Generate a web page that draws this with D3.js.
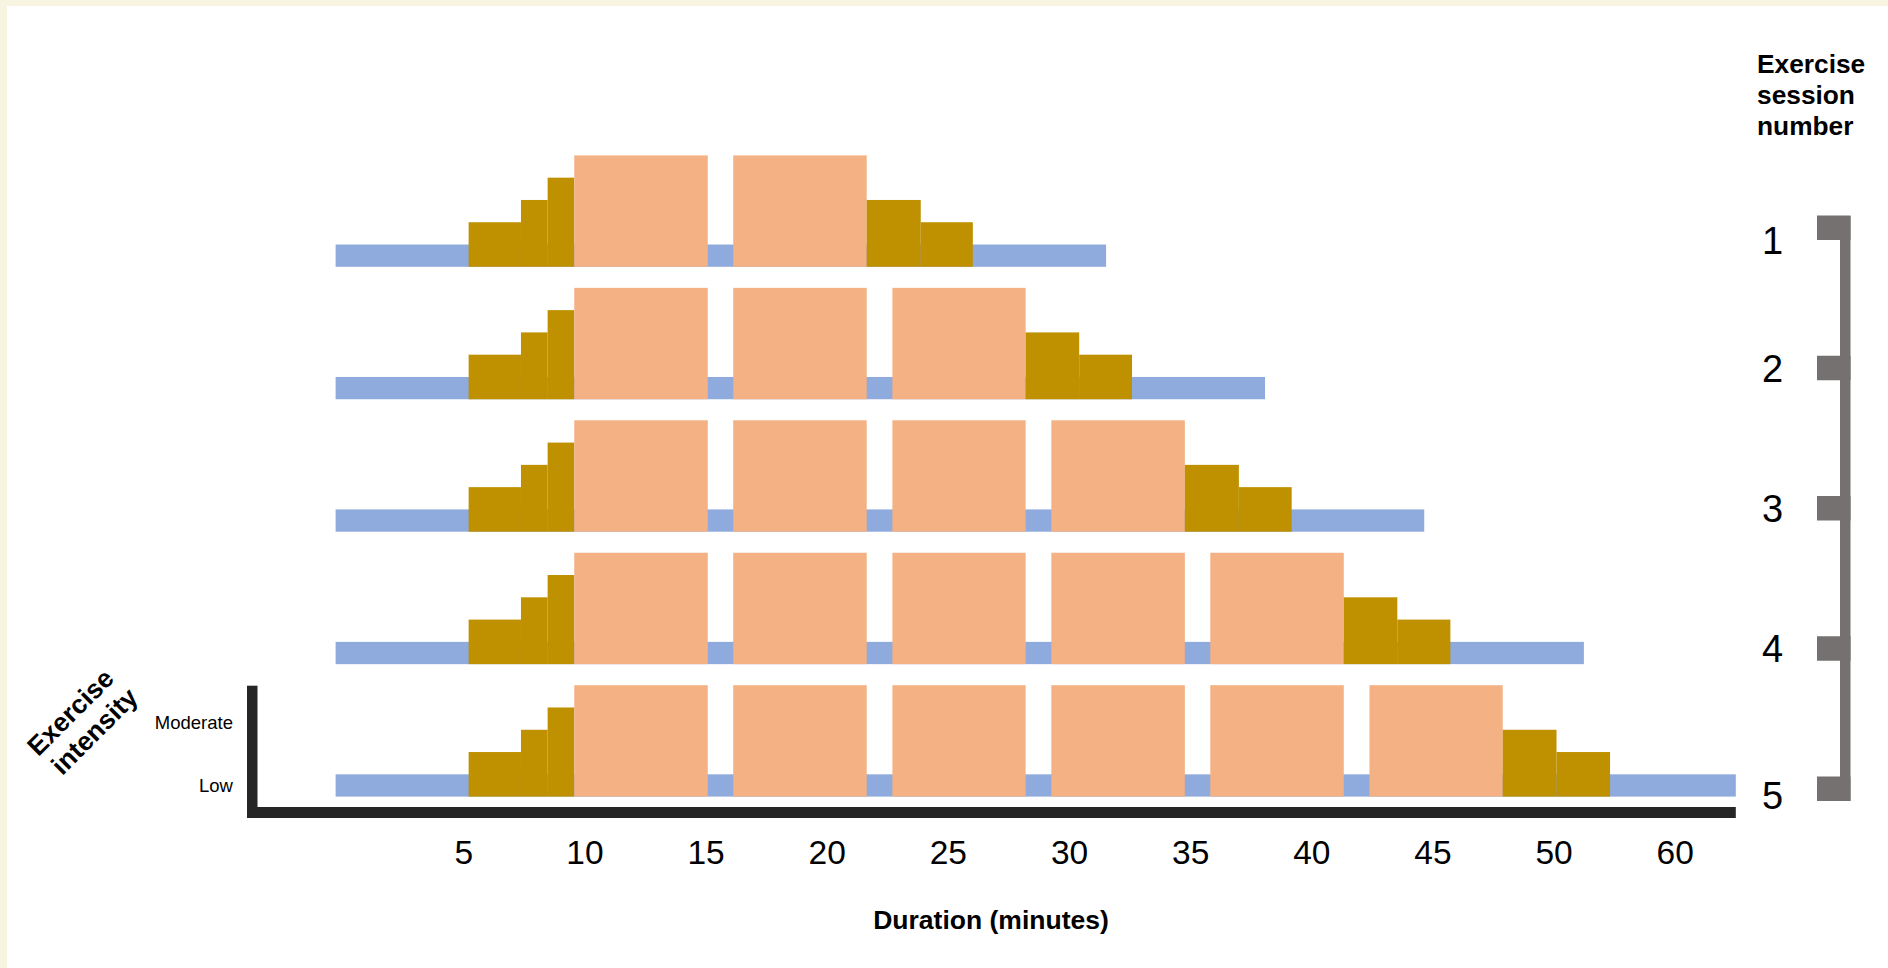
<!DOCTYPE html>
<html>
<head>
<meta charset="utf-8">
<script src="https://cdn.jsdelivr.net/npm/d3@7"></script>
<style>
  html, body { margin: 0; padding: 0; background: #ffffff; }
  svg { display: block; }
  text { font-family: "Liberation Sans", Arial, Helvetica, sans-serif; fill: #000; }
</style>
</head>
<body>
<div id="chart"></div>
<script>
// ---------------- data ----------------
const sessions = [1, 2, 3, 4, 5];
const tickLabels = ["5", "10", "15", "20", "25", "30", "35", "40", "45", "50", "60"];

// low-intensity (blue) band: start / end per session (minutes)
const lowStart = [-0.27, -0.27, -0.27, -0.27, -0.27];
const lowEnd = [31.53, 38.09, 44.66, 51.25, 57.52];

// warm-up ramp (gold): start, end, intensity level
const warmupStart = [5.22, 7.38, 8.48];
const warmupEnd = [7.38, 8.48, 9.58];
const warmupLevel = [2, 3, 4];

// moderate-intensity blocks (salmon)
const intervalStart = [9.58, 16.14, 22.71, 29.27, 35.83, 42.40];
const intervalEnd = [15.09, 21.65, 28.21, 34.78, 41.34, 47.90];
const intervalsPerSession = [2, 3, 4, 5, 6];
const intervalLevel = 5;
const lowLevel = 1;

// cool-down ramp (gold): two steps after the last block
const cooldownLevel = [3, 2];
const cooldownStep1End = [23.88, 30.42, 37.01, 43.55, 50.12];
const cooldownStep2End = [26.03, 32.60, 39.19, 45.74, 52.33];

// intensity axis labels
const intensityLabels = ["Low", "Moderate"];
const intensityValues = [0.5, 3.35];

// ---------------- drawing ----------------
const W = 1888, H = 968;
const C = { low: "#8faadc", ramp: "#bf9000", mod: "#f4b183", axis: "#262626", bracket: "#767171" };

const svg = d3.select("#chart").append("svg").attr("width", W).attr("height", H);
svg.append("rect").attr("width", W).attr("height", H).attr("fill", "#f7f5e2");
svg.append("rect").attr("x", 7).attr("y", 6).attr("width", W - 7).attr("height", H - 6).attr("fill", "#ffffff");

const x = d3.scaleLinear().domain([5, 50]).range([463.3, 1553.6]);
const rowY = d3.scalePoint().domain(sessions).range([266.8, 796.6]);
const lvl = d3.scaleLinear().domain([0, 5]).range([0, 111.4]);

const segs = [];
sessions.forEach((s, i) => {
  segs.push({ s, a: lowStart[i], b: lowEnd[i], l: lowLevel, c: C.low });
  warmupStart.forEach((a, k) => segs.push({ s, a, b: warmupEnd[k], l: warmupLevel[k], c: C.ramp }));
  for (let k = 0; k < intervalsPerSession[i]; k++) {
    segs.push({ s, a: intervalStart[k], b: intervalEnd[k], l: intervalLevel, c: C.mod });
  }
  const lastEnd = intervalEnd[intervalsPerSession[i] - 1];
  segs.push({ s, a: lastEnd, b: cooldownStep1End[i], l: cooldownLevel[0], c: C.ramp });
  segs.push({ s, a: cooldownStep1End[i], b: cooldownStep2End[i], l: cooldownLevel[1], c: C.ramp });
});

svg.append("g").selectAll("rect").data(segs).join("rect")
  .attr("x", d => x(d.a))
  .attr("y", d => rowY(d.s) - lvl(d.l))
  .attr("width", d => x(d.b) - x(d.a))
  .attr("height", d => lvl(d.l))
  .attr("fill", d => d.c);

// L-shaped axis
const axisRight = x(lowEnd[lowEnd.length - 1]);
svg.append("rect").attr("x", 247).attr("y", 685.7).attr("width", 10.5).attr("height", 132.3).attr("fill", C.axis);
svg.append("rect").attr("x", 247).attr("y", 807).attr("width", axisRight - 247).attr("height", 11).attr("fill", C.axis);

// x tick labels
const tx = d3.scalePoint().domain(tickLabels).range([463.3, 1674.7]);
const xa = svg.append("g").attr("transform", "translate(0,840)")
  .call(d3.axisBottom(tx).tickSize(0).tickPadding(0));
xa.select(".domain").remove();
xa.selectAll("text").attr("font-size", 33.5).attr("font-family", "'Liberation Sans', Arial, sans-serif").attr("fill", "#000");

svg.append("text").attr("x", 991).attr("y", 929).attr("text-anchor", "middle")
  .attr("font-size", 26.5).attr("font-weight", "bold").text("Duration (minutes)");

// intensity labels
svg.append("g").selectAll("text").data(intensityLabels).join("text")
  .attr("x", 233)
  .attr("y", (d, i) => rowY(5) - lvl(intensityValues[i]) + 6.6)
  .attr("text-anchor", "end").attr("font-size", 18.5).text(d => d);

const yt = svg.append("g").attr("transform", "translate(83.2,722.5) rotate(-45)");
yt.append("text").attr("x", -1.7).attr("y", -7.2).attr("text-anchor", "middle")
  .attr("font-size", 26.5).attr("font-weight", "bold").text("Exercise");
yt.append("text").attr("x", 1.7).attr("y", 23.2).attr("text-anchor", "middle")
  .attr("font-size", 26.5).attr("font-weight", "bold").text("intensity");

// right bracket
const bY = d3.scalePoint().domain(sessions).range([227.5, 788.5]);
svg.append("rect").attr("x", 1840).attr("y", bY(1) - 11.5).attr("width", 10.5)
  .attr("height", bY(5) + 12.5 - (bY(1) - 11.5)).attr("fill", C.bracket);
svg.append("g").selectAll("rect").data(sessions).join("rect")
  .attr("x", 1817).attr("y", d => bY(d) - 12).attr("width", 33.5).attr("height", 24.5)
  .attr("fill", C.bracket);

// session numbers: centred on their bracket tick, end labels sit lower against the caps
const endNudge = d => (d === sessions[0] ? 13 : d === sessions[sessions.length - 1] ? 7 : 0.5);
svg.append("g").selectAll("text").data(sessions).join("text")
  .attr("x", 1772.5).attr("y", d => bY(d) + endNudge(d) + 13.6).attr("text-anchor", "middle")
  .attr("font-size", 38).text(d => d);

const title = ["Exercise", "session", "number"];
svg.append("g").selectAll("text").data(title).join("text")
  .attr("x", 1757).attr("y", (d, i) => 72.7 + i * 31.2)
  .attr("font-size", 26.3).attr("font-weight", "bold").text(d => d);
</script>
</body>
</html>
